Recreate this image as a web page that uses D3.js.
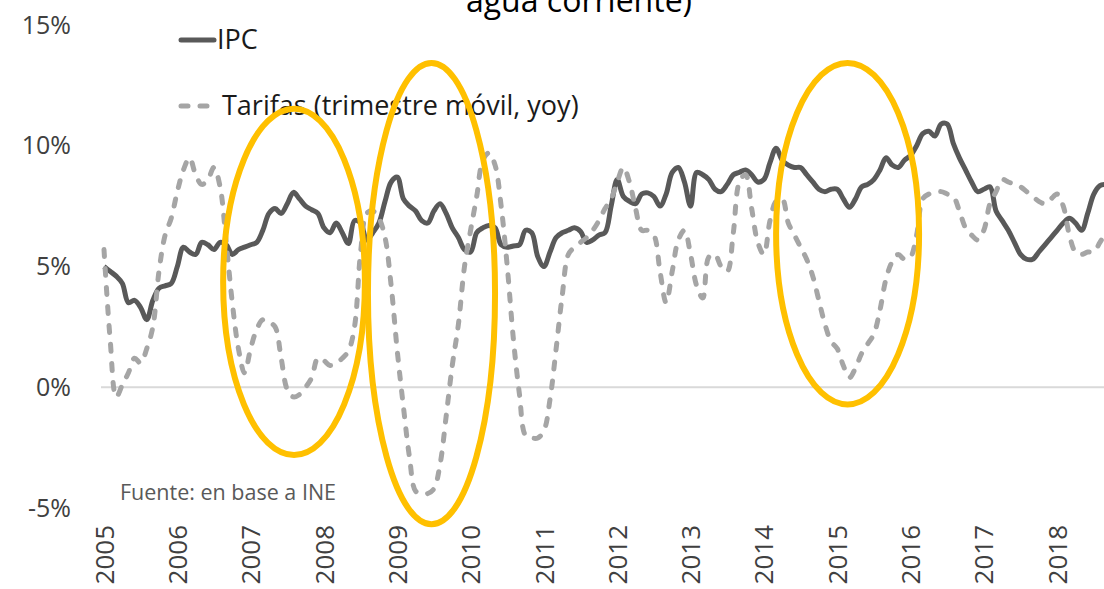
<!DOCTYPE html>
<html>
<head>
<meta charset="utf-8">
<script src="https://cdn.jsdelivr.net/npm/d3@7"></script>
<style>
  body { margin: 0; background: #fff; overflow: hidden; }
  text { font-family: "Open Sans", sans-serif; }
</style>
</head>
<body>
<div id="container"></div>
<script>
/* DATA (monthly, Jan 2005 onwards) */
const years = d3.range(2005, 2019);
const yTicks = [-5, 0, 5, 10, 15];

const ipc = [
  5.0, 4.8, 4.6, 4.3, 3.5, 3.6, 3.3, 2.8, 3.6, 4.1, 4.2, 4.3,
  5.0, 5.8, 5.6, 5.5, 6.0, 5.9, 5.7, 6.0, 5.9, 5.5, 5.7, 5.8,
  5.9, 6.0, 6.5, 7.2, 7.4, 7.2, 7.6, 8.07, 7.8, 7.5, 7.35, 7.2,
  6.6, 6.4, 6.8, 6.4, 5.95, 6.9, 6.8, 6.1, 6.4, 6.8, 7.7, 8.5,
  8.7, 7.8, 7.5, 7.3, 6.9, 6.8, 7.3, 7.6, 7.2, 6.6, 6.2, 5.7,
  5.6, 6.4, 6.6, 6.7, 6.6, 5.9, 5.8, 5.85, 5.9, 6.5, 6.4, 5.4,
  5.0, 5.6, 6.2, 6.4, 6.5, 6.6, 6.45, 6.0, 6.1, 6.3, 6.4, 7.5,
  8.6, 7.9, 7.7, 7.6, 8.0, 8.05, 7.9, 7.5, 8.0, 8.9, 9.1, 8.5,
  7.5, 8.9, 8.8, 8.6, 8.2, 8.1, 8.4, 8.8, 8.9, 9.0, 8.8, 8.5,
  8.6, 9.3, 9.9, 9.4, 9.2, 9.1, 9.1, 8.8, 8.5, 8.2, 8.1, 8.2,
  8.2, 7.8, 7.45, 7.8, 8.3, 8.4, 8.6, 9.0, 9.5, 9.2, 9.1, 9.4,
  9.6, 10.0, 10.5, 10.6, 10.4, 10.9, 10.9, 10.1, 9.5, 9.0, 8.5, 8.1,
  8.2, 8.3, 7.3, 6.9, 6.5, 6.0, 5.5, 5.3, 5.3, 5.6, 5.9, 6.2,
  6.5, 6.8, 7.0, 6.8, 6.5, 7.2, 8.0, 8.35, 8.4
];

const tarifas = [
  5.7, 2.0, -0.4, 0.1, 0.6, 1.2, 1.0, 1.6, 2.5, 4.8, 6.3, 7.0,
  8.1, 9.0, 9.5, 8.8, 8.4, 8.6, 9.1, 8.3, 6.0, 3.5, 1.6, 0.6,
  1.6, 2.4, 2.8, 2.7, 2.5, 1.2, -0.1, -0.4, -0.3, 0.0, 0.4, 1.2,
  1.1, 0.9, 1.0, 1.2, 1.5, 2.5, 5.6, 7.2, 7.3, 7.0, 6.2, 4.2,
  1.5, -0.8, -2.9, -4.3, -4.4, -4.4, -4.2, -3.2, -1.2, 0.9, 2.6, 5.0,
  6.5, 7.9, 9.4, 9.7, 9.2, 7.5, 5.0, 2.0, -0.3, -2.0, -2.1, -2.1,
  -1.8, -0.5, 1.6, 3.8, 5.5, 5.8, 6.0, 6.2, 6.5, 6.9, 7.4, 7.8,
  8.5, 9.1, 8.5, 7.4, 6.5, 6.5, 6.3, 4.8, 3.5, 4.8, 6.1, 6.5,
  5.5, 4.2, 3.7, 5.4, 5.5, 5.0, 4.8, 6.4, 8.5, 8.8, 7.4, 6.0,
  5.5, 6.9, 7.7, 7.8, 6.8, 6.3, 5.8, 5.3, 4.6, 3.6, 2.6, 1.9,
  1.6, 0.9, 0.4, 0.8, 1.4, 1.8, 2.2, 3.2, 4.5, 5.2, 5.5, 5.3,
  5.4, 6.3, 7.8, 8.0, 8.05, 8.1, 8.0, 7.9, 7.3, 6.6, 6.3, 6.1,
  6.5, 7.6, 8.1, 8.6, 8.5, 8.4, 8.3, 8.1, 7.9, 7.7, 7.6, 7.8,
  8.0, 7.5, 6.3, 5.6, 5.5, 5.6, 5.6, 6.0, 6.4
];

// highlight ellipses: centre month index / value, radii in months / points
const highlightCx = [31.1, 53.6, 121.7];
const highlightCy = [4.36, 3.88, 6.36];
const highlightRx = [11.6, 10.4, 11.7];
const highlightRy = [7.17, 9.55, 7.07];

/* CONSTANTS */
const width = 1104, height = 589;
const monthPx = 6.11;
const left = 104;

const svg = d3.select("#container")
  .append("svg")
  .attr("width", width)
  .attr("height", height);

/* SCALES */
const xScale = d3.scaleLinear()
  .domain([0, 156])
  .range([left, left + 156 * monthPx]);

const yScale = d3.scaleLinear()
  .domain([-5, 15])
  .range([508, 25]);

// radii in data units -> pixels
const kx = xScale(1) - xScale(0);
const ky = yScale(0) - yScale(1);

/* AXES */
const yAxis = d3.axisLeft(yScale)
  .tickValues(yTicks)
  .tickSize(0)
  .tickPadding(0)
  .tickFormat(d => d + "%");

svg.append("g")
  .attr("class", "y-axis")
  .attr("transform", "translate(71,0)")
  .call(yAxis)
  .call(g => g.select(".domain").remove())
  .selectAll("text")
  .attr("font-family", "Open Sans")
  .attr("font-size", "25px")
  .attr("fill", "#404040");

const xAxis = d3.axisBottom(xScale)
  .tickValues(years.map((y, i) => i * 12))
  .tickSize(0)
  .tickFormat((d, i) => years[i]);

svg.append("g")
  .attr("class", "x-axis")
  .attr("transform", "translate(0,525)")
  .call(xAxis)
  .call(g => g.select(".domain").remove())
  .selectAll("text")
  .attr("font-family", "Open Sans")
  .attr("font-size", "26px")
  .attr("fill", "#404040")
  .attr("text-anchor", "end")
  .attr("transform", "rotate(-90)")
  .attr("x", 0)
  .attr("y", 0)
  .attr("dy", "0.35em");

// zero line
svg.append("line")
  .attr("x1", xScale(0) - 3)
  .attr("x2", width)
  .attr("y1", yScale(0))
  .attr("y2", yScale(0))
  .attr("stroke", "#D9D9D9")
  .attr("stroke-width", 2);

/* LINES */
const line = d3.line()
  .x((d, i) => xScale(i))
  .y(d => yScale(d))
  .curve(d3.curveCatmullRom.alpha(0.5));

svg.append("path")
  .datum(ipc)
  .attr("fill", "none")
  .attr("stroke", "#595959")
  .attr("stroke-width", 5)
  .attr("stroke-linejoin", "round")
  .attr("d", line);

svg.append("path")
  .datum(tarifas)
  .attr("fill", "none")
  .attr("stroke", "#A5A5A5")
  .attr("stroke-width", 5)
  .attr("stroke-linecap", "round")
  .attr("stroke-dasharray", "7,12")
  .attr("d", line);

/* TITLE, LEGEND, SOURCE */
svg.append("text")
  .attr("x", 579)
  .attr("y", 12)
  .attr("text-anchor", "middle")
  .attr("font-size", "32px")
  .attr("fill", "#000")
  .text("agua corriente)");

const legend = svg.append("g");
legend.append("line")
  .attr("x1", 181).attr("x2", 214)
  .attr("y1", 40).attr("y2", 40)
  .attr("stroke", "#595959")
  .attr("stroke-width", 5)
  .attr("stroke-linecap", "round");
legend.append("text")
  .attr("x", 217).attr("y", 40)
  .attr("dy", "0.35em")
  .attr("font-size", "27px")
  .attr("fill", "#1a1a1a")
  .text("IPC");

legend.append("line")
  .attr("x1", 181).attr("x2", 213)
  .attr("y1", 106).attr("y2", 106)
  .attr("stroke", "#A5A5A5")
  .attr("stroke-width", 5)
  .attr("stroke-linecap", "round")
  .attr("stroke-dasharray", "7,12");
legend.append("text")
  .attr("x", 222).attr("y", 106)
  .attr("dy", "0.35em")
  .attr("font-size", "27px")
  .attr("fill", "#1a1a1a")
  .text("Tarifas (trimestre móvil, yoy)");

svg.append("text")
  .attr("x", 120)
  .attr("y", 492)
  .attr("dy", "0.35em")
  .attr("font-size", "21.5px")
  .attr("fill", "#595959")
  .text("Fuente: en base a INE");

/* HIGHLIGHT ELLIPSES */
svg.selectAll("ellipse.hl")
  .data(highlightCx.map((c, i) => i))
  .join("ellipse")
  .attr("class", "hl")
  .attr("cx", i => xScale(highlightCx[i]))
  .attr("cy", i => yScale(highlightCy[i]))
  .attr("rx", i => highlightRx[i] * kx)
  .attr("ry", i => highlightRy[i] * ky)
  .attr("fill", "none")
  .attr("stroke", "#FFC000")
  .attr("stroke-width", 6);
</script>
</body>
</html>
